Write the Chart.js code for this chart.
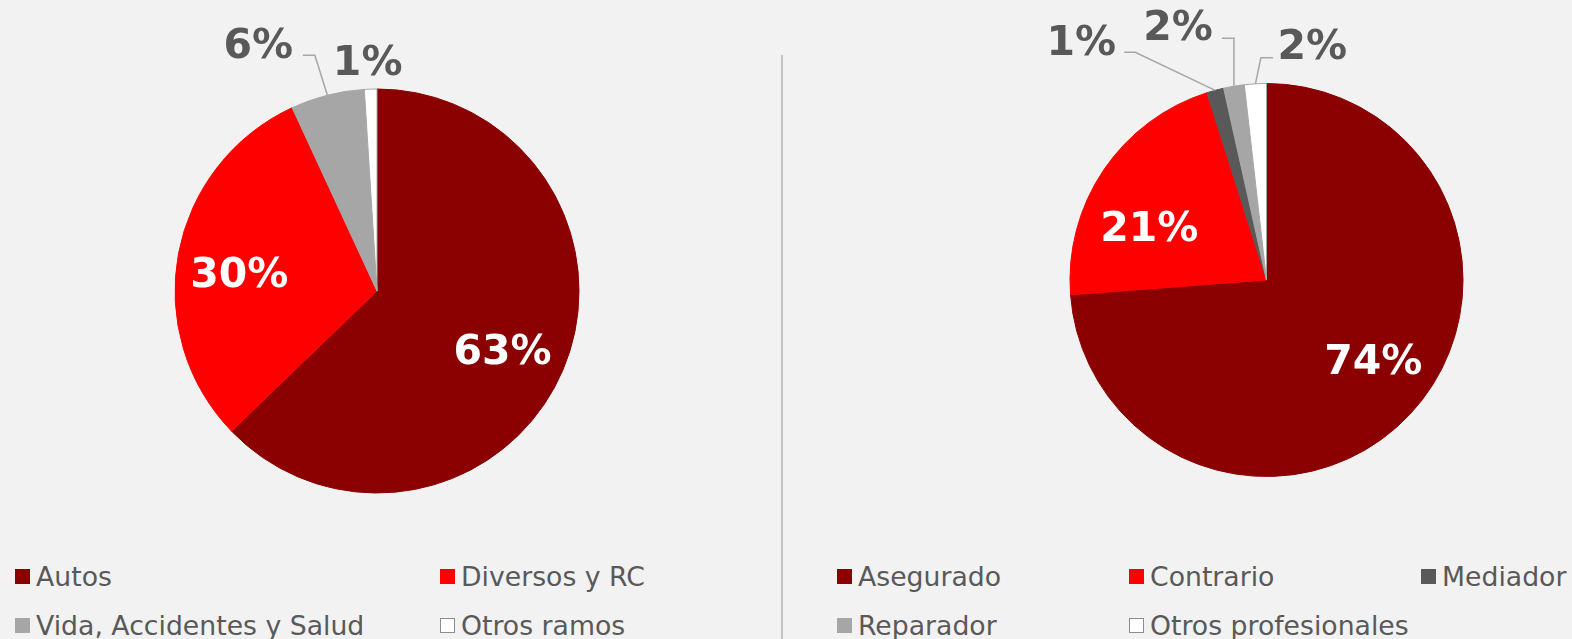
<!DOCTYPE html>
<html>
<head>
<meta charset="utf-8">
<script src="https://cdn.jsdelivr.net/npm/chart.js@4.4.1/dist/chart.umd.min.js"></script>
<style>
  body { margin: 0; background: #f2f2f2; width: 1572px; height: 639px; overflow: hidden; position: relative; font-family: "DejaVu Sans", Verdana, sans-serif; }
  .box { position: absolute; top: 0; height: 545px; }
  #divider { position: absolute; left: 781px; top: 55px; width: 2px; height: 584px; background: #c4c4c4; }
  .legend { position: absolute; top: 560px; }
  .item { position: absolute; display: flex; align-items: center; height: 32px; color: #595959; font-size: 26.7px; white-space: nowrap; }
  .item i { display: inline-block; width: 15px; height: 15px; margin-right: 6px; box-sizing: border-box; }
</style>
</head>
<body>
<div class="box" style="left:0;width:782px"><canvas id="pieLeft"></canvas></div>
<div id="divider"></div>
<div class="box" style="left:782px;width:790px"><canvas id="pieRight"></canvas></div>
<div class="legend" id="legendLeft" style="left:15px"></div>
<div class="legend" id="legendRight" style="left:837px"></div>

<script>
// datos - ramos
const leftLabels = ['Autos', 'Diversos y RC', 'Vida, Accidentes y Salud', 'Otros ramos'];
const leftValues = [62.8, 30.3, 5.9, 1.0];
// datos - origen
const rightLabels = ['Asegurado', 'Contrario', 'Mediador', 'Reparador', 'Otros profesionales'];
const rightValues = [73.8, 21.3, 1.4, 1.7, 1.8];

const leftColors = ['#8b0000', '#ff0000', '#a6a6a6', '#ffffff'];
const leftBorders = ['#8b0000', '#ff0000', '#a6a6a6', '#a6a6a6'];
const rightColors = ['#8b0000', '#ff0000', '#595959', '#a6a6a6', '#ffffff'];
const rightBorders = ['#8b0000', '#ff0000', '#595959', '#a6a6a6', '#a6a6a6'];

// etiquetas dentro: giro (grados) y fraccion del radio
const leftInside = { 0: { rot: 1, r: 0.68 }, 1: { rot: -2, r: 0.69 } };
const rightInside = { 0: { rot: -7, r: 0.67 }, 1: { rot: -8.6, r: 0.66 } };

// etiquetas fuera del pastel (relativas al borde del sector)
const leftOutside = {
  2: { dx: -69, dy: -52, lead: [[-12.5, -40], [-24.5, -40]] },
  3: { dx: -3, dy: -29 }
};
const rightOutside = {
  2: { dx: -134, dy: -50, lead: [[-80, -38], [-91, -38]] },
  3: { dx: -56, dy: -61, lead: [[0, -48], [-12, -48]] },
  4: { dx: 57, dy: -39.5, lead: [[5.5, -26], [17.5, -26]] }
};

const FONT_SIZE = 41;

function pctLabels(inside, outside) {
  return {
    id: 'pctLabels',
    afterDatasetsDraw(chart) {
      const ctx = chart.ctx;
      const meta = chart.getDatasetMeta(0);
      const values = chart.data.datasets[0].data;
      ctx.save();
      ctx.font = 'bold ' + FONT_SIZE + 'px "DejaVu Sans"';
      ctx.textAlign = 'center';
      ctx.textBaseline = 'alphabetic';
      meta.data.forEach((arc, i) => {
        const p = arc.getProps(['x', 'y', 'startAngle', 'endAngle', 'outerRadius'], true);
        const mid = (p.startAngle + p.endAngle) / 2;
        const text = Math.round(values[i]) + '%';
        const capHalf = FONT_SIZE * 0.729 / 2 + 2;
        const o = outside[i];
        if (!o) {
          const adj = inside[i] || { rot: 0, r: 0.68 };
          const a = mid + adj.rot * Math.PI / 180;
          const r = p.outerRadius * adj.r;
          ctx.fillStyle = '#ffffff';
          ctx.fillText(text, p.x + Math.cos(a) * r, p.y + Math.sin(a) * r + capHalf);
          return;
        }
        const ex = p.x + Math.cos(mid) * p.outerRadius;
        const ey = p.y + Math.sin(mid) * p.outerRadius;
        if (o.lead) {
          ctx.strokeStyle = '#a6a6a6';
          ctx.lineWidth = 1.5;
          ctx.beginPath();
          ctx.moveTo(ex, ey);
          o.lead.forEach(pt => ctx.lineTo(ex + pt[0], ey + pt[1]));
          ctx.stroke();
        }
        ctx.fillStyle = '#595959';
        ctx.fillText(text, ex + o.dx, ey + o.dy + capHalf - 2);
      });
      ctx.restore();
    }
  };
}

function makePie(id, labels, values, colors, borders, padding, inside, outside) {
  new Chart(document.getElementById(id), {
    type: 'pie',
    data: {
      labels: labels,
      datasets: [{
        data: values,
        backgroundColor: colors,
        borderColor: borders,
        borderWidth: 1
      }]
    },
    options: {
      responsive: true,
      maintainAspectRatio: false,
      animation: false,
      layout: { padding: padding },
      plugins: {
        legend: { display: false },
        tooltip: { enabled: false }
      }
    },
    plugins: [pctLabels(inside, outside)]
  });
}

makePie('pieLeft', leftLabels, leftValues, leftColors, leftBorders,
  { left: 174.5, right: 202.5, top: 88.5, bottom: 51.5 }, leftInside, leftOutside);
makePie('pieRight', rightLabels, rightValues, rightColors, rightBorders,
  { left: 287, right: 108, top: 83, bottom: 68 }, rightInside, rightOutside);

// leyendas
function buildLegend(elId, labels, colors, colX) {
  const el = document.getElementById(elId);
  labels.forEach((lab, i) => {
    const col = i % colX.length;
    const row = Math.floor(i / colX.length);
    const item = document.createElement('div');
    item.className = 'item';
    item.style.left = colX[col] + 'px';
    item.style.top = (row * 49) + 'px';
    const mk = document.createElement('i');
    mk.style.background = colors[i];
    if (colors[i] === '#ffffff') mk.style.border = '1px solid #8c8c8c';
    item.appendChild(mk);
    item.appendChild(document.createTextNode(lab));
    el.appendChild(item);
  });
}
buildLegend('legendLeft', leftLabels, leftColors, [0, 425]);
buildLegend('legendRight', rightLabels, rightColors, [0, 292, 584]);
</script>
</body>
</html>
